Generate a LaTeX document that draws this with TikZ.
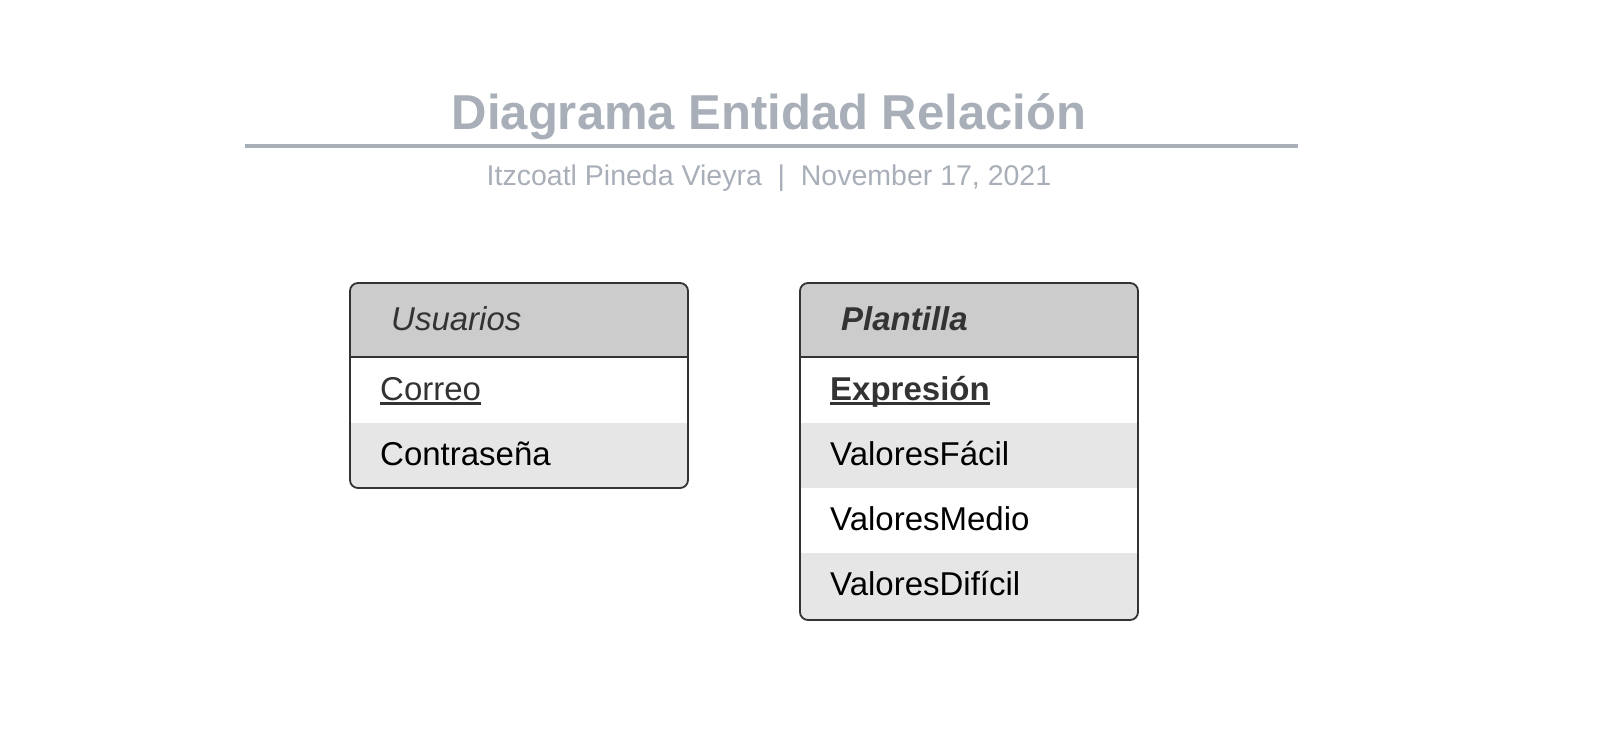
\documentclass[tikz,border=0pt]{standalone}
\usepackage{fontspec}
\setmainfont{Liberation Sans}
\definecolor{titlegray}{RGB}{169,175,184}
\definecolor{hdrfill}{RGB}{204,204,204}
\definecolor{altfill}{RGB}{230,230,230}
\definecolor{darktext}{RGB}{51,51,51}
\newcommand\myul[1]{\setbox0\hbox{#1}\rlap{\rule[-4.6pt]{\wd0}{2.4pt}}\box0}
\tikzset{
  attr/.style={anchor=base west, inner sep=0pt, font=\fontsize{33}{39}\selectfont, text=black},
  keyattr/.style={attr, text=darktext},
  hdrtext/.style={anchor=base west, inner sep=0pt, font=\fontsize{33}{39}\selectfont\itshape, text=darktext},
  frame/.style={draw=darktext, line width=1.8pt, rounded corners=8pt},
  sepline/.style={draw=darktext, line width=1.2pt},
}
\begin{document}
\begin{tikzpicture}[x=1pt,y=-1pt]
\useasboundingbox (0,0) rectangle (1600,734);
\fill[white] (0,0) rectangle (1600,734);

% Title
\node[anchor=base, inner sep=0pt, text=titlegray, font=\fontsize{49}{57}\selectfont\bfseries] (title) at (769,129) {Diagrama Entidad Relación};
\coordinate (rl) at (245,146);
\coordinate (rr) at (1298,146);
\draw[titlegray, line width=3.5pt] (rl) -- (rr);
\node[anchor=base, inner sep=0pt, text=titlegray, font=\fontsize{28.5}{34}\selectfont] (subtitle) at (769,185) {Itzcoatl Pineda Vieyra\ \ |\ \ November 17, 2021};

% Table Usuarios
\begin{scope}
\clip[rounded corners=8pt] (350,283) rectangle (688,488);
\fill[hdrfill] (350,283) rectangle (688,357);
\fill[white] (350,357) rectangle (688,423);
\fill[altfill] (350,423) rectangle (688,488);
\end{scope}
\draw[frame] (350,283) rectangle (688,488);
\coordinate (ul) at (350,357);
\coordinate (ur) at (688,357);
\draw[sepline] (ul) -- (ur);
\node[hdrtext] (usuarios) at (391,330) {Usuarios};
\node[keyattr] (correo) at (380,400) {\myul{Correo}};
\node[attr] (contrasena) at (380,465) {Contraseña};

% Table Plantilla
\begin{scope}
\clip[rounded corners=8pt] (800,283) rectangle (1138,620);
\fill[hdrfill] (800,283) rectangle (1138,357);
\fill[white] (800,357) rectangle (1138,423);
\fill[altfill] (800,423) rectangle (1138,488);
\fill[white] (800,488) rectangle (1138,553);
\fill[altfill] (800,553) rectangle (1138,620);
\end{scope}
\draw[frame] (800,283) rectangle (1138,620);
\coordinate (pl) at (800,357);
\coordinate (pr) at (1138,357);
\draw[sepline] (pl) -- (pr);
\node[hdrtext, font=\fontsize{33}{39}\selectfont\bfseries\itshape] (plantilla) at (841,330) {Plantilla};
\node[keyattr, font=\fontsize{33}{39}\selectfont\bfseries] (expresion) at (830,400) {\myul{Expresión}};
\node[attr] (facil) at (830,465) {ValoresFácil};
\node[attr] (medio) at (830,530) {ValoresMedio};
\node[attr] (dificil) at (830,595) {ValoresDifícil};
\end{tikzpicture}
\end{document}
